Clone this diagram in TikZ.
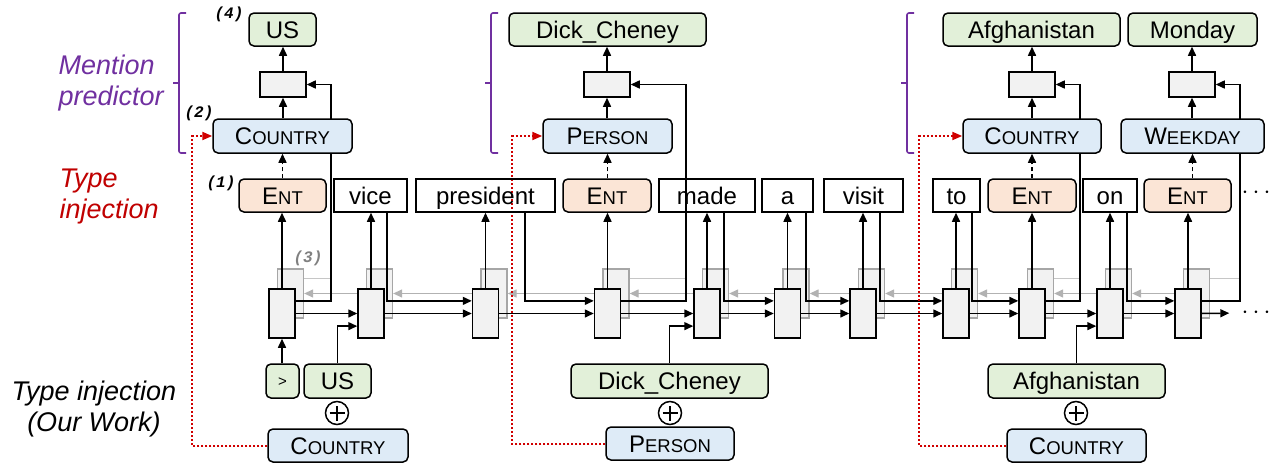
\documentclass[tikz,border=0pt]{standalone}
\usepackage{fontspec}
\setmainfont{Liberation Sans}
\newfontfamily\annfont{Liberation Mono}
\usepackage{tikz}
\usetikzlibrary{arrows.meta,calc,backgrounds}

\definecolor{outgreen}{HTML}{E2F0D9}
\definecolor{typeblue}{HTML}{DEEBF7}
\definecolor{entpeach}{HTML}{FBE5D6}
\definecolor{cellgray}{HTML}{F2F2F2}
\definecolor{mentpurple}{HTML}{7030A0}
\definecolor{injred}{HTML}{C00000}
\definecolor{dotred}{HTML}{D00000}

\newcommand{\typecap}[2]{#1{\fontsize{18.5}{20}\selectfont #2}}

\tikzset{
  box/.style={draw, line width=1.5pt, minimum height=33pt, inner sep=0pt, text height=17pt, text depth=0pt, font=\fontsize{24}{28}\selectfont},
  wordbox/.style={box},
  entbox/.style={box, rounded corners=5pt, fill=entpeach},
  typebox/.style={box, rounded corners=5pt, fill=typeblue, minimum height=34pt},
  outbox/.style={box, rounded corners=5pt, fill=outgreen},
  predbox/.style={draw, line width=1.5pt, fill=cellgray, minimum width=46pt, minimum height=25pt, inner sep=0pt},
  cell/.style={draw, line width=1.5pt, fill=cellgray, minimum width=26pt, minimum height=49pt, inner sep=0pt},
  bcell/.style={cell, draw=gray!70, line width=1.3pt},
  conn/.style={line width=1.5pt, -{Triangle[length=9pt,width=8pt]}},
  dconn/.style={conn, dash pattern=on 4pt off 3pt},
  bconn/.style={line width=1.3pt, draw=gray!60, -{Triangle[length=9pt,width=8pt]}},
  gline/.style={line width=1.2pt, draw=gray!45},
  rconn/.style={line width=2pt, draw=dotred, dash pattern=on 2pt off 2pt, -{Triangle[length=10pt,width=8pt]}},
  plus/.style={circle, draw, line width=1.5pt, minimum size=23pt, inner sep=0pt,
    path picture={\draw[line width=1.6pt] ([xshift=-7.5pt]path picture bounding box.center) -- ([xshift=7.5pt]path picture bounding box.center)
      ([yshift=-7.5pt]path picture bounding box.center) -- ([yshift=7.5pt]path picture bounding box.center);}},
  ann/.style={font=\annfont\bfseries\itshape\fontsize{16}{16}\selectfont},
  side/.style={font=\fontsize{27}{31}\selectfont\itshape},
  bracket/.style={draw=mentpurple, line width=1.6pt, rounded corners=2pt},
  dots/.style={inner sep=0pt, font=\fontsize{34}{34}\selectfont},
}

\begin{document}
\begin{tikzpicture}[x=1pt,y=-1pt]
    \useasboundingbox (0,0) rectangle (1272,466);

    % Side labels
    \node[side, text=mentpurple, align=left, anchor=west] (mlabel) at (55,83) {Mention\\predictor};
    \node[side, text=injred, align=left, anchor=west] (ilabel) at (56,197) {Type\\injection};
    \node[side, align=center] (olabel) at (94,409) {Type injection\\(Our Work)};

    % Brackets
    \foreach \x in {179,491,907} {
        \draw[bracket] (\x+7,13) -- (\x,13) -- (\x,153) -- (\x+7,153);
        \draw[bracket] (\x,83) -- (\x-6,83);
    }

    % Decoder cells
    \foreach \i/\x in {1/282,2/371,3/485.5,4/607.5,5/707,6/787.5,7/863,8/956,9/1032,10/1110,11/1188}
        \node[cell] (c\i) at (\x,313.5) {};

    % Generated words
    \foreach \i/\x/\w in {1/282.5/87,4/607/88,9/1032/88,11/1187.5/87}
        \node[entbox, minimum width=\w pt] (w\i) at (\x,195.5) {\typecap{E}{NT}};
    \foreach \i/\x/\w/\t in {2/370.5/73/vice,3/485.5/139/president,5/707/96/made,6/787.5/51/a,7/863.5/79/visit,8/956.5/47/to,10/1110/54/on}
        \node[wordbox, minimum width=\w pt] (w\i) at (\x,195.5) {\t};
    \node[dots] (dots1) at (1256,193) {$\cdots$};
    \node[dots] (dots2) at (1256,313) {$\cdots$};

    % Mention predictor
    \foreach \k/\x in {1/283,2/607,3/1032,4/1192}
        \node[predbox] (p\k) at (\x,84.5) {};
    \node[typebox, minimum width=139pt] (t1) at (282.5,136) {\typecap{C}{OUNTRY}};
    \node[typebox, minimum width=129pt] (t2) at (607.5,136) {\typecap{P}{ERSON}};
    \node[typebox, minimum width=138pt] (t3) at (1032,136) {\typecap{C}{OUNTRY}};
    \node[typebox, minimum width=143pt] (t4) at (1192.5,136) {\typecap{W}{EEKDAY}};
    \node[outbox, minimum width=67pt] (o1) at (282.5,29.5) {US};
    \node[outbox, minimum width=197pt] (o2) at (607.5,29.5) {Dick\_Cheney};
    \node[outbox, minimum width=177pt] (o3) at (1031.5,29.5) {Afghanistan};
    \node[outbox, minimum width=129pt] (o4) at (1192.5,29.5) {Monday};

    % Injected inputs (our work)
    \node[outbox, minimum width=33pt, minimum height=34pt, text height=10pt, font=\fontsize{15}{16}\selectfont] (s) at (282.5,381) {>};
    \node[outbox, minimum width=67pt, minimum height=34pt] (e1) at (337.5,381) {US};
    \node[outbox, minimum width=197pt, minimum height=34pt] (e2) at (669.5,381) {Dick\_Cheney};
    \node[outbox, minimum width=177pt, minimum height=34pt] (e3) at (1076.5,381) {Afghanistan};
    \node[plus] (x1) at (337,413) {};
    \node[plus] (x2) at (670,413) {};
    \node[plus] (x3) at (1076,413) {};
    \node[typebox, minimum width=140pt, minimum height=33pt] (bt1) at (338,445.5) {\typecap{C}{OUNTRY}};
    \node[typebox, minimum width=128pt, minimum height=33pt] (bt2) at (670,443.5) {\typecap{P}{ERSON}};
    \node[typebox, minimum width=139pt, minimum height=33pt] (bt3) at (1076.5,445.5) {\typecap{C}{OUNTRY}};

    % Step labels
    \node[ann] (n4) at (229,14) {(4)};
    \node[ann] (n2) at (199,113) {(2)};
    \node[ann] (n1) at (221,183) {(1)};
    \node[ann, text=gray] (n3) at (308,258) {(3)};

    \begin{pgfonlayer}{background}
        % Backward cells
        \foreach \i in {1,...,11}
            \node[bcell] (b\i) at ($(c\i)+(8.5,-20)$) {};
        \foreach \i [count=\j from 2] in {1,...,10}
            \draw[bconn] (b\j.west) -- (b\i.east);

        % Hidden states to the predictor
        \foreach \cn/\pn/\dx in {1/1/24,4/2/55,9/3/24,11/4/24} {
            \coordinate (r\pn) at ($(p\pn.east)+(\dx,0)$);
            \coordinate (g\pn) at ($(b\cn.east)!0.6!(b\cn.north east)$);
            \draw[gline] (g\pn) -- (g\pn -| r\pn);
            \draw[conn] ($(c\cn.east)!0.5!(c\cn.north east)$) -| (r\pn) -- (p\pn.east);
        }

        % Forward chain
        \foreach \i [count=\j from 2] in {1,...,10}
            \draw[conn] (c\i.east) -- (c\j.west);
        \draw[conn, shorten >=12pt] (c11.east) -- (dots2.west);

        % Cell outputs
        \foreach \i in {1,...,11}
            \draw[conn] (c\i.north) -- (c\i.north |- w\i.south);

        % Words fed back
        \foreach \wn/\cn/\x in {2/3/387,3/4/525,5/6/724,6/7/806,7/8/880,8/9/972,10/11/1127}
            \draw[conn] (w\wn.south -| \x,0) |- ($(c\cn.west)!0.5!(c\cn.north west)$);

        % Mention columns
        \foreach \wn/\k in {1/1,4/2,9/3,11/4} {
            \draw[dconn] (t\k.south |- w\wn.north) -- (t\k.south);
            \draw[conn] (p\k.south |- t\k.north) -- (p\k.south);
            \draw[conn] (p\k.north) -- (p\k.north |- o\k.south);
        }

        % Injected inputs
        \draw[conn] (c1.south |- s.north) -- (c1.south);
        \foreach \en/\cn in {1/2,2/5,3/10}
            \draw[conn] (e\en.north) |- ($(c\cn.west)!0.5!(c\cn.south west)$);

        % Type injection
        \foreach \k/\dx in {1/20,2/30,3/43}
            \draw[rconn] (bt\k.west) -| ($(t\k.west)+(-\dx,0)$) -- (t\k.west);
    \end{pgfonlayer}
\end{tikzpicture}
\end{document}
